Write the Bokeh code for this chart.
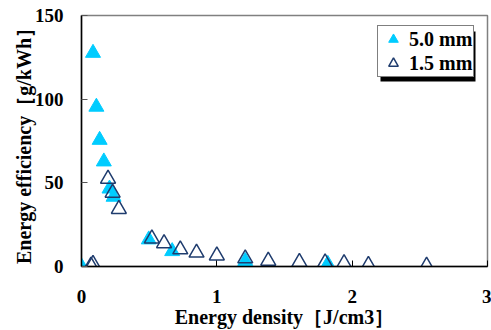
from bokeh.plotting import figure
from bokeh.models import Range1d, FixedTicker, Legend, LegendItem, BoxAnnotation
from bokeh.embed import file_html
from bokeh.resources import INLINE

x_ticks = [0, 1, 2, 3]
y_ticks = [0, 50, 100, 150]

# 5.0 mm (filled triangles)
mm50_x = [0.0, 0.085, 0.11, 0.134, 0.165, 0.207, 0.237, 0.497, 0.67, 1.21, 1.82]
mm50_y = [0.0, 127.6, 95.4, 75.6, 62.7, 46.5, 41.6, 16.1, 9.1, 3.2, 1.5]

# 1.5 mm (open triangles)
mm15_x = [0.07, 0.085, 0.196, 0.23, 0.276, 0.52, 0.61, 0.73, 0.85, 1.0, 1.21, 1.38, 1.61, 1.80, 1.94, 2.12, 2.55]
mm15_y = [0.5, 1.5, 52.4, 44.0, 34.3, 16.7, 13.8, 10.2, 8.2, 6.5, 4.8, 3.4, 2.6, 2.3, 1.9, 0.9, 0.4]

FONT = "Liberation Serif"

p = figure(width=491, height=330, output_backend="svg", toolbar_location=None,
           x_range=Range1d(0, 3), y_range=Range1d(0, 150),
           min_border_left=81, min_border_right=4, min_border_top=15, min_border_bottom=63)
p.grid.visible = False
p.background_fill_color = "white"
p.border_fill_color = "white"
p.outline_line_color = "#808080"
p.outline_line_width = 1.5

r1 = p.scatter(mm50_x, mm50_y, marker="triangle", size=15,
               fill_color="#00CCFF", line_color="#00CCFF", line_width=1)
r2 = p.scatter(mm15_x, mm15_y, marker="triangle", size=15,
               fill_color=None, line_color="#1f3c6e", line_width=1.5)

for ax in (p.xaxis[0], p.yaxis[0]):
    ax.axis_line_color = "black"
    ax.axis_line_width = 1.5
    ax.major_tick_in = 6
    ax.major_tick_out = 0
    ax.minor_tick_in = 0
    ax.minor_tick_out = 0
    ax.major_label_text_font = FONT
    ax.major_label_text_font_style = "bold"
    ax.major_label_text_font_size = "19px"
    ax.major_label_text_color = "black"
    ax.axis_label_text_font = FONT
    ax.axis_label_text_font_style = "bold"
    ax.axis_label_text_font_size = "20px"
    ax.axis_label_text_color = "black"

p.xaxis.ticker = FixedTicker(ticks=x_ticks)
p.yaxis.ticker = FixedTicker(ticks=y_ticks)
p.xaxis.major_tick_line_color = "black"
p.yaxis.major_tick_line_color = "#555555"
p.xaxis.major_label_standoff = 23
p.yaxis.major_label_standoff = 18
p.xaxis.axis_label = "Energy density［J/cm3］"
p.yaxis.axis_label = "Energy efficiency［g/kWh］"
p.xaxis.axis_label_standoff = 0
p.yaxis.axis_label_standoff = -3

shadow = BoxAnnotation(left=380, right=475, top=31, bottom=81,
                       left_units="canvas", right_units="canvas",
                       top_units="canvas", bottom_units="canvas",
                       fill_color="black", fill_alpha=1.0, line_color=None)
p.add_layout(shadow)

legend = Legend(items=[LegendItem(label="5.0 mm", renderers=[r1]),
                       LegendItem(label="1.5 mm", renderers=[r2])],
                location=(296, 189), margin=0, padding=1, spacing=0,
                glyph_width=28, glyph_height=24, label_height=24, label_standoff=2,
                border_line_color="black", border_line_width=1.5,
                background_fill_color="white", background_fill_alpha=1.0,
                label_text_font=FONT, label_text_font_style="bold",
                label_text_font_size="20px", label_text_color="black")
p.add_layout(legend)

open("out.html", "w").write(file_html(p, INLINE))
